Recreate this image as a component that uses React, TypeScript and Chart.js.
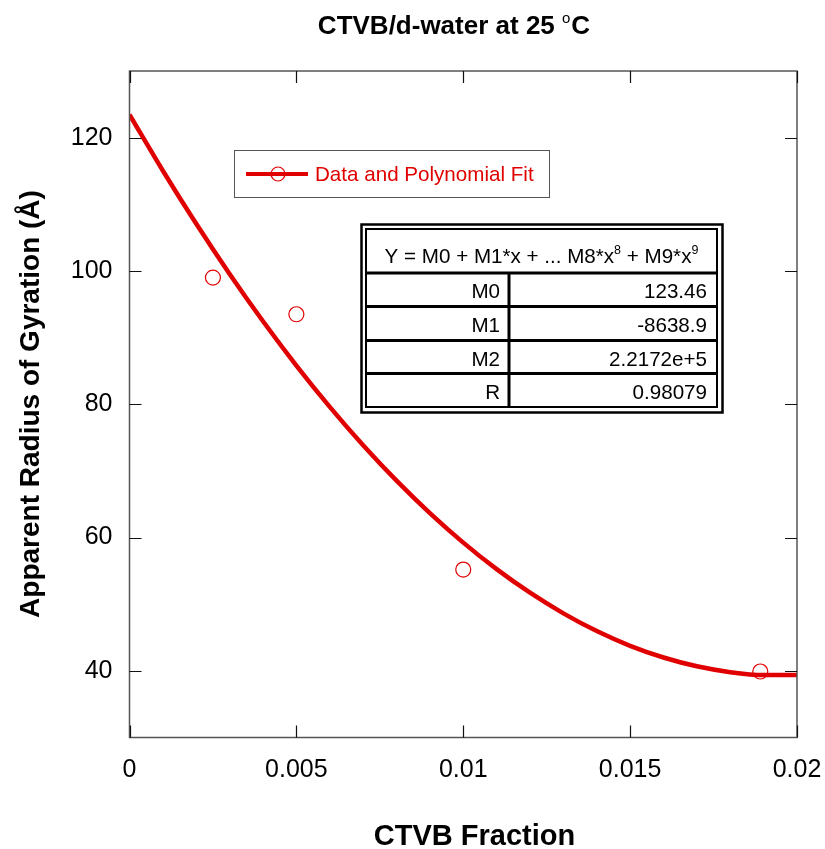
import React, { useEffect, useRef } from "react";
import { Chart, registerables } from "chart.js";

Chart.register(...registerables);

// ---- data ----
const dataX = [0.0025, 0.005, 0.01, 0.0189];
const dataY = [99.0, 93.5, 55.2, 39.9];

const fitX = [0, 0.001, 0.002, 0.003, 0.004, 0.005, 0.006, 0.007, 0.008, 0.009, 0.01,
  0.011, 0.012, 0.013, 0.014, 0.015, 0.016, 0.017, 0.018, 0.019, 0.02];
const fitY = [123.46, 115.04, 107.07, 99.54, 92.45, 85.81, 79.61, 73.85, 68.54, 63.67, 59.24,
  55.26, 51.72, 48.63, 45.97, 43.76, 42.0, 40.68, 39.8, 39.36, 39.37];

const xTicks = [0, 0.005, 0.01, 0.015, 0.02];
const xTickLabels = ["0", "0.005", "0.01", "0.015", "0.02"];
const yTicks = [40, 60, 80, 100, 120];
const yTickLabels = ["40", "60", "80", "100", "120"];

const titleMain = "CTVB/d-water at 25 ";
const titleSup = "o";
const titleEnd = "C";
const xTitle = "CTVB Fraction";
const yTitle = "Apparent Radius of Gyration (Å)";
const legendLabel = "Data and Polynomial Fit";

const headerParts = [
  { t: "Y = M0 + M1*x + ... M8*x", sup: false },
  { t: "8", sup: true },
  { t: " + M9*x", sup: false },
  { t: "9", sup: true },
];
const paramNames = ["M0", "M1", "M2", "R"];
const paramValues = ["123.46", "-8638.9", "2.2172e+5", "0.98079"];

const RED = "rgb(224,0,0)";
const FONT = '"Liberation Sans", Arial, Helvetica, sans-serif';

const decorPlugin = {
  id: "decor",
  afterDraw(chart: any) {
    const ctx = chart.ctx;
    const { left, right, top, bottom } = chart.chartArea;
    const xs = chart.scales.x;
    const ys = chart.scales.y;
    ctx.save();

    // frame
    ctx.strokeStyle = "#555";
    ctx.lineWidth = 1.5;
    ctx.strokeRect(left, top, right - left, bottom - top);

    // inward ticks
    ctx.strokeStyle = "#111";
    ctx.lineWidth = 1.2;
    const TL = 12;
    ctx.beginPath();
    xTicks.forEach((v) => {
      const px = Math.round(xs.getPixelForValue(v)) + 0.5;
      ctx.moveTo(px, bottom);
      ctx.lineTo(px, bottom - TL);
      ctx.moveTo(px, top);
      ctx.lineTo(px, top + TL);
    });
    yTicks.forEach((v) => {
      const py = Math.round(ys.getPixelForValue(v)) + 0.5;
      ctx.moveTo(left, py);
      ctx.lineTo(left + TL, py);
      ctx.moveTo(right, py);
      ctx.lineTo(right - TL, py);
    });
    ctx.stroke();

    // title
    ctx.fillStyle = "#000";
    ctx.textBaseline = "alphabetic";
    ctx.textAlign = "left";
    const fMain = "bold 26px " + FONT;
    const fSup = "15px " + FONT;
    ctx.font = fMain;
    const w1 = ctx.measureText(titleMain).width;
    const w3 = ctx.measureText(titleEnd).width;
    ctx.font = fSup;
    const w2 = ctx.measureText(titleSup).width + 1;
    const tw = w1 + w2 + w3;
    let tx = 454 - tw / 2;
    const tb = 34;
    ctx.font = fMain;
    ctx.fillText(titleMain, tx, tb);
    tx += w1;
    ctx.font = fSup;
    ctx.fillText(titleSup, tx, tb - 11);
    tx += w2;
    ctx.font = fMain;
    ctx.fillText(titleEnd, tx, tb);

    // x axis title
    ctx.font = "bold 29px " + FONT;
    ctx.textAlign = "center";
    ctx.fillText(xTitle, 474.5, 845);

    // y axis title
    ctx.save();
    ctx.translate(39, 404);
    ctx.rotate(-Math.PI / 2);
    ctx.font = "bold 28px " + FONT;
    ctx.textAlign = "center";
    ctx.fillText(yTitle, 0, 0);
    ctx.restore();

    // legend
    ctx.strokeStyle = "#555";
    ctx.lineWidth = 1;
    ctx.strokeRect(234.5, 150.5, 315, 47);
    ctx.strokeStyle = RED;
    ctx.lineWidth = 4;
    ctx.beginPath();
    ctx.moveTo(246, 174);
    ctx.lineTo(308, 174);
    ctx.stroke();
    ctx.lineWidth = 1.2;
    ctx.beginPath();
    ctx.arc(278, 174, 7, 0, Math.PI * 2);
    ctx.stroke();
    ctx.fillStyle = RED;
    ctx.font = "20.6px " + FONT;
    ctx.textAlign = "left";
    ctx.fillText(legendLabel, 315, 181);

    // table
    ctx.strokeStyle = "#000";
    ctx.lineWidth = 2.5;
    ctx.strokeRect(361.5, 224.5, 361, 188);
    ctx.lineWidth = 2;
    const iL = 366, iR = 717, iT = 229, iB = 407;
    ctx.strokeRect(iL, iT, iR - iL, iB - iT);
    ctx.lineWidth = 3;
    ctx.beginPath();
    const rowTops = [273, 306.5, 340.5, 373.5];
    rowTops.forEach((y) => {
      ctx.moveTo(iL, y);
      ctx.lineTo(iR, y);
    });
    ctx.moveTo(509, rowTops[0]);
    ctx.lineTo(509, iB);
    ctx.stroke();

    ctx.fillStyle = "#000";
    // header
    const fH = "20.6px " + FONT;
    const fHs = "12.5px " + FONT;
    let hw = 0;
    headerParts.forEach((p) => {
      ctx.font = p.sup ? fHs : fH;
      hw += ctx.measureText(p.t).width;
    });
    let hx = (iL + iR) / 2 - hw / 2;
    ctx.textAlign = "left";
    headerParts.forEach((p) => {
      ctx.font = p.sup ? fHs : fH;
      ctx.fillText(p.t, hx, p.sup ? 263 - 9 : 263);
      hx += ctx.measureText(p.t).width;
    });
    // rows
    ctx.font = "20.6px " + FONT;
    ctx.textAlign = "right";
    paramNames.forEach((n, i) => {
      const base = rowTops[i] + 25;
      ctx.fillText(n, 500, base);
      ctx.fillText(paramValues[i], 707, base);
    });

    ctx.restore();
  },
};

export default function App() {
  const ref = useRef<HTMLCanvasElement | null>(null);
  useEffect(() => {
    if (!ref.current) return;
    const chart = new Chart(ref.current, {
      type: "scatter",
      data: {
        datasets: [
          {
            label: "fit",
            data: fitX.map((x, i) => ({ x, y: fitY[i] })),
            showLine: true,
            borderColor: RED,
            borderWidth: 4.5,
            pointRadius: 0,
            cubicInterpolationMode: "monotone",
            fill: false,
          },
          {
            label: legendLabel,
            data: dataX.map((x, i) => ({ x, y: dataY[i] })),
            showLine: false,
            borderColor: RED,
            pointBorderColor: RED,
            pointBackgroundColor: "rgba(0,0,0,0)",
            pointRadius: 7.5,
            pointBorderWidth: 1.2,
          },
        ],
      } as any,
      options: {
        animation: false,
        responsive: false,
        layout: { padding: { top: 71, right: 28, left: 0, bottom: 0 } },
        plugins: {
          legend: { display: false },
          title: { display: false },
          tooltip: { enabled: false },
        },
        scales: {
          x: {
            type: "linear",
            min: 0,
            max: 0.02,
            grid: { display: false, drawTicks: false },
            border: { display: false },
            afterBuildTicks: (s: any) => {
              s.ticks = xTicks.map((v) => ({ value: v }));
            },
            afterFit: (s: any) => {
              s.height = 111.5;
              s.paddingLeft = 0;
              s.paddingRight = 0;
            },
            ticks: {
              autoSkip: false,
              maxRotation: 0,
              padding: 18,
              color: "#000",
              font: { family: FONT, size: 25 },
              callback: (v: any, i: number) => xTickLabels[i],
            },
          },
          y: {
            type: "linear",
            min: 30,
            max: 130,
            grid: { display: false, drawTicks: false },
            border: { display: false },
            afterBuildTicks: (s: any) => {
              s.ticks = yTicks.map((v) => ({ value: v }));
            },
            afterFit: (s: any) => {
              s.width = 129.5;
              s.paddingTop = 0;
              s.paddingBottom = 0;
            },
            ticks: {
              autoSkip: false,
              padding: 17,
              color: "#000",
              font: { family: FONT, size: 25 },
              callback: (v: any, i: number) => yTickLabels[i],
            },
          },
        },
      } as any,
      plugins: [decorPlugin],
    });
    return () => chart.destroy();
  }, []);
  return (
    <div style={{ position: "absolute", left: 0, top: 0, width: 825, height: 849, background: "#fff" }}>
      <canvas ref={ref} width={825} height={849} />
    </div>
  );
}
